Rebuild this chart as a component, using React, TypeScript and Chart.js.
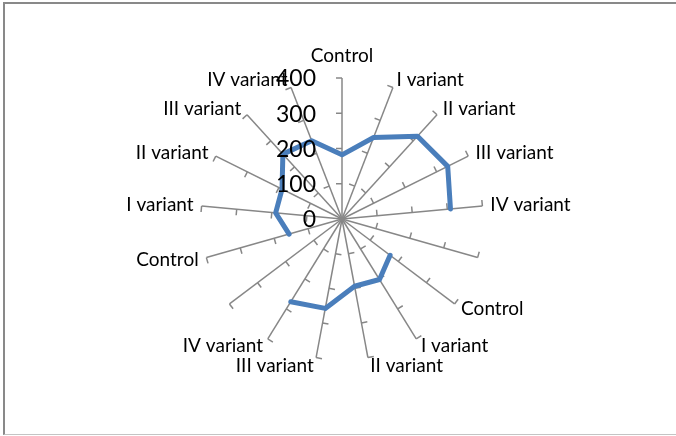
import React, { useEffect, useRef } from 'react';
import { Chart, registerables } from 'chart.js';

Chart.register(...registerables);

const categories = [
  'Control', 'I variant', 'II variant', 'III variant', 'IV variant', '',
  'Control', 'I variant', 'II variant', 'III variant', 'IV variant', '',
  'Control', 'I variant', 'II variant', 'III variant', 'IV variant',
];
const values: (number | null)[] = [
  182, 248, 318, 335, 309, null,
  171, 202, 194, 258, 276, null,
  156, 189, 190, 249, 238,
];
const tickValues = [0, 100, 200, 300, 400];

const spokeTicks = {
  id: 'spokeTicks',
  beforeDatasetsDraw(chart: any) {
    const s = chart.scales.r;
    const ctx = chart.ctx;
    ctx.save();
    ctx.strokeStyle = '#878787';
    ctx.lineWidth = 1.5;
    for (let i = 0; i < categories.length; i++) {
      const a = s.getIndexAngle(i) - Math.PI / 2;
      const px = Math.cos(a - Math.PI / 2);
      const py = Math.sin(a - Math.PI / 2);
      for (const v of tickValues.slice(1)) {
        const p = s.getPointPositionForValue(i, v);
        ctx.beginPath();
        ctx.moveTo(p.x, p.y);
        ctx.lineTo(p.x + px * 6, p.y + py * 6);
        ctx.stroke();
      }
    }
    ctx.restore();
  },
  afterDatasetsDraw(chart: any) {
    const s = chart.scales.r;
    const ctx = chart.ctx;
    ctx.save();
    ctx.fillStyle = '#000';
    ctx.textBaseline = 'middle';
    // value axis labels
    ctx.font = '23px Lato';
    ctx.textAlign = 'right';
    for (const v of tickValues) {
      const p = s.getPointPositionForValue(0, v);
      ctx.fillText(String(v), p.x - 26, p.y + 1);
    }
    // category labels beside spoke ends
    ctx.font = '19px Lato';
    const maxV = tickValues[tickValues.length - 1];
    for (let i = 0; i < categories.length; i++) {
      const text = categories[i];
      if (!text) continue;
      const ang = s.getIndexAngle(i);
      const sn = Math.sin(ang);
      const cs = Math.cos(ang);
      const p = s.getPointPositionForValue(i, maxV);
      let x = p.x + 7 * sn;
      let y = p.y - 8 * cs;
      if (Math.abs(sn) < 0.05 && cs > 0) {
        ctx.textAlign = 'center';
        y = p.y - 22;
      } else if (sn > 0) {
        ctx.textAlign = 'left';
        x += 1;
      } else {
        ctx.textAlign = 'right';
        x -= 1;
      }
      ctx.fillText(text, x, y);
    }
    ctx.restore();
  },
};

export default function App() {
  const ref = useRef<HTMLCanvasElement>(null);
  useEffect(() => {
    const chart = new Chart(ref.current as HTMLCanvasElement, {
      type: 'radar',
      data: {
        labels: categories,
        datasets: [
          {
            data: values as any,
            borderColor: '#4A7EBB',
            borderWidth: 5,
            pointRadius: 0,
            pointHoverRadius: 0,
            fill: false,
            tension: 0,
            spanGaps: false,
            borderJoinStyle: 'round',
            borderCapStyle: 'round',
          },
        ],
      },
      options: {
        responsive: false,
        animation: false,
        layout: { padding: { left: 8, right: 0, top: 78, bottom: 76 } },
        plugins: { legend: { display: false }, tooltip: { enabled: false } },
        scales: {
          r: {
            min: 0,
            max: 400,
            startAngle: 0,
            ticks: { display: false, stepSize: 100 },
            grid: { display: false },
            angleLines: { display: true, color: '#878787', lineWidth: 1.5 },
            pointLabels: { display: false },
          },
        },
      },
      plugins: [spokeTicks],
    });
    return () => chart.destroy();
  }, []);
  return (
    <div style={{ position: 'fixed', left: 0, top: 0, width: 676, height: 436, background: '#fff' }}>
      <canvas ref={ref} width={676} height={436} style={{ position: 'absolute', left: 0, top: 0 }} />
      <div
        style={{
          position: 'absolute',
          left: 3,
          top: 2,
          width: 673,
          height: 433,
          boxSizing: 'border-box',
          borderLeft: '2px solid #898989',
          borderTop: '2px solid #898989',
          borderBottom: '1px solid #c4c4c4',
          pointerEvents: 'none',
        }}
      />
    </div>
  );
}
